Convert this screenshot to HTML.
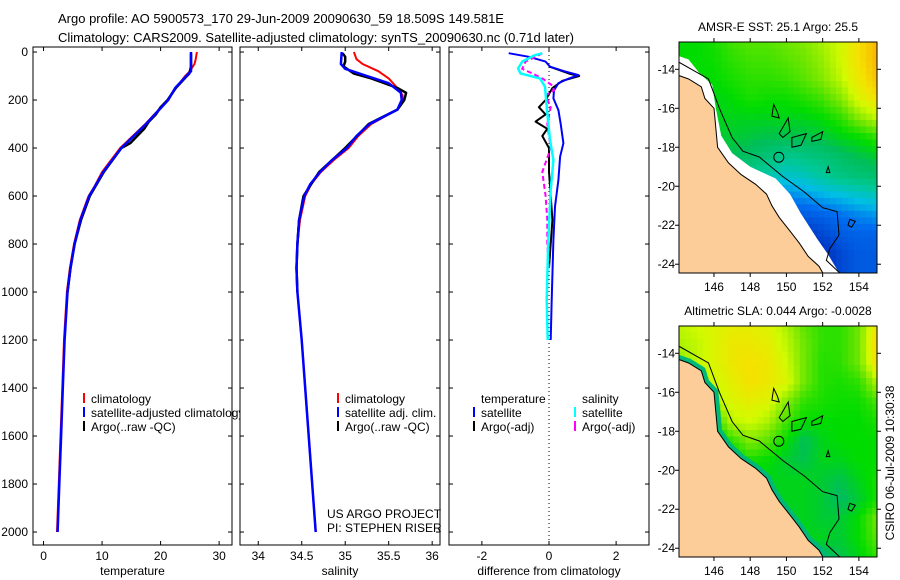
<!DOCTYPE html>
<html><head><meta charset="utf-8"><style>
html,body{margin:0;padding:0;background:#fff;width:900px;height:580px;overflow:hidden}
svg{display:block;font-family:"Liberation Sans","DejaVu Sans",sans-serif}
</style></head><body>
<svg id="fig" width="900" height="580" viewBox="0 0 900 580" xmlns="http://www.w3.org/2000/svg">
<text x="58" y="23" font-size="13">Argo profile: AO 5900573_170 29-Jun-2009 20090630_59 18.509S 149.581E</text>
<text x="58" y="42" font-size="13">Climatology: CARS2009. Satellite-adjusted climatology: synTS_20090630.nc (0.71d later)</text>
<g id="plots"></g>
</svg>
<script>
// ---------- data ----------
const depthTicks=[0,200,400,600,800,1000,1200,1400,1600,1800,2000];
const tempTicks=[0,10,20,30];
const salTicks=[34,34.5,35,35.5,36];
const diffTicks=[-2,0,2];
const tempClimDepth=[0,30,50,80,100,150,200,300,400,500,560,600,700,800,900,1000,1200,1400,1600,1800,2000];
const tempClimVal=[26.2,26.0,25.8,25.0,24.2,22.6,21.2,17.4,13.1,10.0,8.7,7.7,6.2,5.2,4.5,4.0,3.5,3.2,2.9,2.6,2.3];
const tempSatDepth=[0,80,95,150,200,300,400,500,560,600,700,800,900,1000,1200,1400,1600,1800,2000];
const tempSatVal=[25.2,25.2,24.6,22.5,21.3,17.5,13.3,10.2,8.8,7.8,6.3,5.3,4.6,4.1,3.6,3.3,3.0,2.7,2.4];
const tempArgoDepth=[5,60,90,100,150,200,230,260,290,320,350,380,400,500,600,700,800,900,1000];
const tempArgoVal=[25.2,25.2,24.9,24.5,22.6,21.2,20.0,19.2,18.0,17.2,16.0,14.8,13.3,10.3,7.9,6.4,5.3,4.6,4.1];
const salClimDepth=[0,30,50,80,110,150,180,200,240,300,350,400,450,500,550,600,700,800,900,1000,1200,1400,1600,1800,2000];
const salClimVal=[35.1,35.13,35.2,35.38,35.5,35.6,35.66,35.66,35.6,35.3,35.15,35.04,34.87,34.72,34.61,34.54,34.48,34.45,34.44,34.45,34.5,34.54,34.58,34.62,34.66];
const salSatDepth=[0,50,70,100,130,170,200,240,300,350,400,450,500,550,600,700,800,900,1000,1200,1400,1600,1800,2000];
const salSatVal=[34.96,34.95,35.0,35.25,35.5,35.64,35.65,35.6,35.28,35.13,35.02,34.85,34.71,34.6,34.53,34.47,34.45,34.44,34.45,34.5,34.54,34.58,34.62,34.66];
const salArgoDepth=[5,20,40,60,90,110,150,170,200,240,300,400,500,600,700,800,900,1000];
const salArgoVal=[34.97,35.0,35.0,34.98,35.1,35.3,35.6,35.7,35.68,35.6,35.27,35.0,34.7,34.52,34.47,34.45,34.44,34.45];
const dTempSatDepth=[5,20,40,61,80,96,110,130,160,193,242,300,380,436,533,644,783,1033,1200];
const dTempSatVal=[-1.2,-0.6,-0.1,0.03,0.45,0.88,0.6,0.28,0.15,0.13,0.28,0.35,0.43,0.33,0.28,0.18,0.13,0.08,0.05];
const dTempArgoDepth=[60,90,100,120,150,200,230,260,290,320,350,400,500,600,700,800,900];
const dTempArgoVal=[0.0,0.6,0.9,0.4,0.1,-0.1,-0.3,-0.1,-0.4,-0.05,-0.2,0.0,0.0,0.05,0.1,0.05,0.0];
const dSalSatDepth=[5,15,40,68,89,110,145,228,367,450,575,783,1033,1200];
const dSalSatVal=[-0.2,-0.45,-0.8,-0.92,-0.85,-0.27,-0.12,-0.07,0.03,0.13,0.05,-0.02,-0.07,-0.04];
const dSalArgoDepth=[5,20,40,70,89,110,140,160,180,230,300,400,500,600,700,800,900];
const dSalArgoVal=[-0.2,-0.4,-0.7,-0.8,-0.5,-0.2,0.1,0.15,-0.1,0.05,-0.05,0.05,-0.2,-0.1,-0.05,-0.05,0.0];
const sstGrid=[
[.62,.62,.64,.68,.70,.70,.72,.74,.78,.82,.90,.97],
[.62,.62,.63,.66,.68,.68,.70,.72,.76,.82,.90,.97],
[.62,.62,.62,.64,.66,.66,.67,.70,.74,.80,.88,.95],
[.60,.60,.60,.62,.64,.63,.63,.65,.68,.74,.84,.90],
[.60,.60,.60,.60,.60,.60,.60,.60,.62,.66,.74,.80],
[.58,.58,.58,.58,.57,.56,.56,.56,.57,.60,.62,.66],
[.55,.55,.55,.55,.53,.50,.46,.48,.50,.53,.56,.58],
[.50,.50,.50,.50,.45,.42,.38,.40,.44,.48,.50,.52],
[.40,.40,.40,.35,.30,.28,.28,.30,.33,.35,.38,.40],
[.30,.30,.30,.30,.22,.20,.18,.20,.22,.25,.28,.30],
[.20,.20,.20,.20,.15,.10,.05,.10,.15,.20,.22,.22],
[.20,.20,.20,.20,.15,.12,.08,.05,.08,.15,.20,.20],
[.20,.20,.20,.20,.15,.12,.08,.05,.08,.15,.20,.20]];
const slaGrid=[
[.80,.82,.84,.86,.86,.84,.78,.70,.66,.66,.72,.88],
[.78,.80,.84,.88,.88,.86,.80,.72,.66,.66,.72,.92],
[.75,.80,.84,.88,.90,.88,.82,.72,.65,.66,.72,.90],
[.72,.76,.82,.86,.90,.88,.84,.72,.65,.64,.66,.78],
[.60,.60,.78,.84,.86,.84,.74,.66,.64,.63,.63,.68],
[.58,.58,.64,.80,.82,.78,.68,.62,.62,.62,.62,.64],
[.56,.56,.58,.66,.74,.70,.62,.55,.60,.62,.62,.62],
[.55,.55,.55,.60,.64,.62,.58,.56,.60,.60,.62,.62],
[.55,.55,.55,.56,.58,.60,.60,.60,.58,.56,.60,.64],
[.55,.55,.55,.55,.56,.58,.60,.60,.58,.54,.58,.64],
[.55,.55,.55,.55,.56,.58,.58,.60,.58,.58,.62,.72],
[.55,.55,.55,.55,.56,.58,.60,.60,.60,.58,.62,.70],
[.55,.55,.55,.55,.56,.58,.60,.58,.52,.56,.60,.66]];
const lonTicks=[146,148,150,152,154];
const latTicks=[-14,-16,-18,-20,-22,-24];
const coast=[[144,-14.3],[144.6,-14.5],[145.3,-14.9],[145.5,-15.5],[146,-16.0],[146.1,-17],[146.2,-18.0],[146.8,-18.8],[147.5,-19.4],[148.3,-19.9],[148.9,-20.4],[149.2,-21.0],[149.6,-21.6],[150.2,-22.3],[150.7,-22.9],[151.2,-23.6],[151.8,-24.1],[152.1,-24.6],[144,-24.6]];
const dataEdge=[[144,-13.3],[144.6,-13.5],[145.2,-14.2],[145.9,-14.8],[146.1,-16],[146.4,-17.4],[147,-18.3],[148,-19.0],[149.4,-19.6],[150.2,-20.4],[150.8,-21.4],[151.7,-22.7],[152.3,-23.5],[153.0,-24.6],[144,-24.6]];
const contour200=[[144,-13.6],[145.7,-14.5],[146.3,-16],[147,-17.5],[147.6,-18.2],[148.5,-18.5],[149.8,-19.5],[151,-20.3],[152,-21.1],[152.8,-21.3],[152.9,-22.5],[152.4,-23.2],[152.2,-23.8],[153,-24.5]];
const reefs=[[[149.3,-15.8],[149.5,-16.2],[149.6,-16.5],[149.2,-16.4],[149.3,-15.8]],[[150.1,-16.5],[150.2,-17.2],[149.8,-17.5],[149.6,-17.3],[150.1,-16.5]],[[150.3,-17.5],[151.1,-17.3],[150.8,-17.9],[150.3,-18.0],[150.3,-17.5]],[[151.4,-17.5],[152,-17.2],[151.9,-17.6],[151.4,-17.7],[151.4,-17.5]],[[152.3,-19.0],[152.4,-19.3],[152.2,-19.3],[152.3,-19.0]],[[153.5,-21.7],[153.8,-21.8],[153.6,-22.1],[153.4,-22.0],[153.5,-21.7]]];

// ---------- drawing ----------
const NS='http://www.w3.org/2000/svg';
const root=document.getElementById('plots');
function mk(tag,attrs,parent){const e=document.createElementNS(NS,tag);for(const k in attrs)e.setAttribute(k,attrs[k]);(parent||root).appendChild(e);return e;}
const yTop=47,yBot=545,d0=-21,d1=2054;
const yD=d=>yTop+(d-d0)/(d1-d0)*(yBot-yTop);

function panel(name,x0,x1,xmin,xmax,xticks,fmt,xlabel,showY){
  const g=mk('g',{});
  
  
  const sx=v=>x0+(v-xmin)/(xmax-xmin)*(x1-x0);
  const frame=mk('rect',{x:x0,y:yTop,width:x1-x0,height:yBot-yTop,fill:'#fff',stroke:'#000','stroke-width':1},g);
  
  
  xticks.forEach(t=>{const x=sx(t);
    mk('line',{x1:x,x2:x,y1:yBot,y2:yBot-4,stroke:'#000'},g);
    mk('line',{x1:x,x2:x,y1:yTop,y2:yTop+4,stroke:'#000'},g);
    const tl=mk('text',{x:x,y:560,'font-size':12,'text-anchor':'middle'},g);tl.textContent=fmt(t);
    
    
  });
  depthTicks.forEach(t=>{const y=yD(t);
    mk('line',{x1:x0,x2:x0+4,y1:y,y2:y,stroke:'#000'},g);
    mk('line',{x1:x1,x2:x1-4,y1:y,y2:y,stroke:'#000'},g);
    if(showY){const tl=mk('text',{x:28,y:y+4,'font-size':12,'text-anchor':'end'},g);tl.textContent=t;
      
      }
  });
  const xl=mk('text',{x:(x0+x1)/2,y:575,'font-size':12,'text-anchor':'middle'},g);xl.textContent=xlabel;
  
  
  return {g,sx};
}
function line(p,depths,vals,color,w,name,dash){
  const pts=depths.map((d,i)=>p.sx(vals[i]).toFixed(1)+','+yD(d).toFixed(1)).join(' ');
  const e=mk('polyline',{points:pts,fill:'none',stroke:color,'stroke-width':w,'stroke-linejoin':'round'},p.g);
  if(dash)e.setAttribute('stroke-dasharray',dash);
  
  
}
function legend(g,x,y,color,label,name){
  if(color){mk('line',{x1:x,x2:x,y1:y-10,y2:y,stroke:color,'stroke-width':2},g);}
  const t=mk('text',{x:x+7,y:y,'font-size':12},g);t.textContent=label;
  
  
}
const defs=mk('defs',{});
const cp=mk('clipPath',{id:'clip1'},defs);mk('rect',{x:0,y:0,width:240,height:580},cp);

const p1=panel('temperature',33,232,-1.8,32.2,tempTicks,v=>v,'temperature',true);
line(p1,tempClimDepth,tempClimVal,'#f00',2,'temperature-climatology-line');
line(p1,tempArgoDepth,tempArgoVal,'#000',2.5,'temperature-argo-line');
line(p1,tempSatDepth,tempSatVal,'#00f',2.5,'temperature-satellite-line');
const lg1=mk('g',{'clip-path':'url(#clip1)'},p1.g);


legend(lg1,84,403,'#f00','climatology','legend-climatology');
legend(lg1,84,417,'#00f','satellite-adjusted climatology','legend-satellite-adjusted');
legend(lg1,84,431,'#000','Argo(..raw -QC)','legend-argo');

const p2=panel('salinity',240,440,33.79,36.09,salTicks,v=>v,'salinity',false);
line(p2,salClimDepth,salClimVal,'#f00',2,'salinity-climatology-line');
line(p2,salArgoDepth,salArgoVal,'#000',2.5,'salinity-argo-line');
line(p2,salSatDepth,salSatVal,'#00f',2.5,'salinity-satellite-line');
legend(p2.g,338,403,'#f00','climatology','legend-sal-climatology');
legend(p2.g,338,417,'#00f','satellite adj. clim.','legend-sal-satellite');
legend(p2.g,338,431,'#000','Argo(..raw -QC)','legend-sal-argo');
legend(p2.g,320,518,null,'US ARGO PROJECT','project-credit');
legend(p2.g,320,532,null,'PI: STEPHEN RISER','pi-credit');

const p3=panel('difference',449,649,-2.98,2.98,diffTicks,v=>v,'difference from climatology',false);
const zl=mk('line',{x1:p3.sx(0),x2:p3.sx(0),y1:yTop,y2:yBot,stroke:'#000','stroke-dasharray':'1,3'},p3.g);

line(p3,dTempArgoDepth,dTempArgoVal,'#000',2,'diff-temperature-argo-line');
line(p3,dTempSatDepth,dTempSatVal,'#00f',2,'diff-temperature-satellite-line');
line(p3,dSalArgoDepth,dSalArgoVal,'#f0f',2,'diff-salinity-argo-line','5,3');
line(p3,dSalSatDepth,dSalSatVal,'#0ff',2.5,'diff-salinity-satellite-line');
legend(p3.g,474,403,null,'temperature','legend-temperature-header');
legend(p3.g,474,417,'#00f','satellite','legend-diff-temp-satellite');
legend(p3.g,474,431,'#000','Argo(-adj)','legend-diff-temp-argo');
legend(p3.g,575,403,null,'salinity','legend-salinity-header');
legend(p3.g,575,417,'#0ff','satellite','legend-diff-sal-satellite');
legend(p3.g,575,431,'#f0f','Argo(-adj)','legend-diff-sal-argo');

// ---------- maps ----------
function cmap(v){
  const stops=[[0,[0,20,140]],[0.12,[0,60,200]],[0.25,[0,110,240]],[0.35,[0,190,230]],[0.45,[0,200,150]],[0.55,[0,190,90]],[0.62,[0,220,0]],[0.72,[110,230,0]],[0.82,[210,250,0]],[0.9,[245,225,0]],[1,[250,165,0]]];
  v=Math.max(0,Math.min(1,v));
  for(let i=1;i<stops.length;i++){if(v<=stops[i][0]){const a=stops[i-1],b=stops[i],t=(v-a[0])/(b[0]-a[0]);
    return 'rgb('+a[1].map((c,k)=>Math.round(c+(b[1][k]-c)*t)).join(',')+')';}}
  return 'rgb(250,165,0)';
}
function gridVal(grid,lon,lat){
  const c=Math.max(0,Math.min(10.999,lon-144)),r=Math.max(0,Math.min(11.999,-12.5-lat));
  const c0=Math.floor(c),r0=Math.floor(r),fc=c-c0,fr=r-r0;
  const a=grid[r0][c0],b=grid[r0][c0+1],cc=grid[r0+1][c0],d=grid[r0+1][c0+1];
  return a*(1-fc)*(1-fr)+b*fc*(1-fr)+cc*(1-fc)*fr+d*fc*fr;
}
function map(name,top,grid,title,whiteBand){
  const x0=679,x1=877,bot=top+231,lon0=144.07,lon1=155,lat0=-12.6,lat1=-24.45;
  const g=mk('g',{});
  
  
  const px=l=>x0+(l-lon0)/(lon1-lon0)*(x1-x0);
  const py=l=>top+(lat0-l)/(lat0-lat1)*(bot-top);
  const cid=name+'-clip';const c=mk('clipPath',{id:cid},defs);mk('rect',{x:x0,y:top,width:x1-x0,height:bot-top},c);
  const inner=mk('g',{'clip-path':'url(#'+cid+')'},g);
  const step=1/3;
  for(let la=lat0;la>lat1-step;la-=step){for(let lo=lon0;lo<lon1;lo+=step){
    const v=gridVal(grid,lo+step/2,la-step/2);
    mk('rect',{x:px(lo).toFixed(1),y:py(la).toFixed(1),width:(px(lo+step)-px(lo)+0.6).toFixed(1),height:(py(la-step)-py(la)+0.6).toFixed(1),fill:cmap(v)},inner);
  }}
  const poly=p=>p.map(q=>px(q[0]).toFixed(1)+','+py(q[1]).toFixed(1)).join(' ');
  if(whiteBand){const wb=mk('polygon',{points:poly(dataEdge),fill:'#fff'},inner);
    }
  else{mk('polyline',{points:poly(coast.slice(0,-1)),fill:'none',stroke:'#00b878','stroke-width':9},inner);}
  const land=mk('polygon',{points:poly(coast),fill:'#fccc99',stroke:'#000','stroke-width':1},inner);
  
  mk('polyline',{points:poly(contour200),fill:'none',stroke:'#000','stroke-width':1},inner);
  reefs.forEach(r=>mk('polygon',{points:poly(r),fill:'none',stroke:'#000','stroke-width':1},inner));
  const pos=mk('circle',{cx:px(149.58),cy:py(-18.51),r:5,fill:'none',stroke:'#000'},inner);
  
  mk('rect',{x:x0,y:top,width:x1-x0,height:bot-top,fill:'none',stroke:'#000'},g);
  lonTicks.forEach(t=>{const x=px(t);mk('line',{x1:x,x2:x,y1:top,y2:top-4,stroke:'#000'},g);mk('line',{x1:x,x2:x,y1:bot,y2:bot+4,stroke:'#000'},g);
    const tl=mk('text',{x:x,y:bot+18,'font-size':12,'text-anchor':'middle'},g);tl.textContent=t;
    });
  latTicks.forEach(t=>{const y=py(t);mk('line',{x1:x0,x2:x0-4,y1:y,y2:y,stroke:'#000'},g);mk('line',{x1:x1,x2:x1+4,y1:y,y2:y,stroke:'#000'},g);
    const tl=mk('text',{x:x0-4,y:y+4,'font-size':12,'text-anchor':'end'},g);tl.textContent=t;
    });
  const tt=mk('text',{x:(x0+x1)/2,y:top-11,'font-size':12,'text-anchor':'middle'},g);tt.textContent=title;
  
}
map('sst-map',42,sstGrid,'AMSR-E SST: 25.1 Argo: 25.5',true);
map('sla-map',326,slaGrid,'Altimetric SLA: 0.044 Argo: -0.0028',false);
const ts=mk('text',{x:0,y:0,'font-size':12,'text-anchor':'middle',transform:'translate(894,463) rotate(-90)'});
ts.textContent='CSIRO 06-Jul-2009 10:30:38';


</script>
</body></html>
